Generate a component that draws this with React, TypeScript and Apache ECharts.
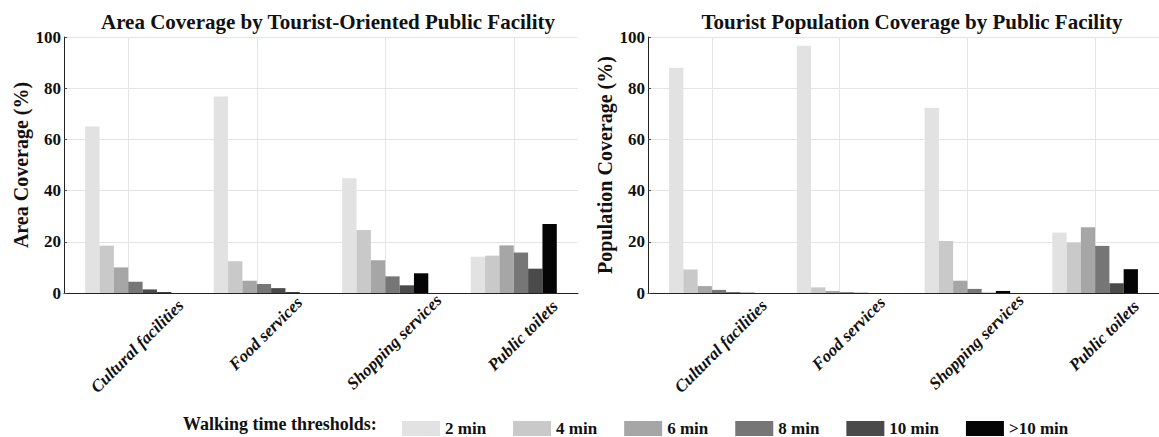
import React, { useEffect, useRef } from "react";
import * as echarts from "echarts";

const categories = ["Cultural facilities", "Food services", "Shopping services", "Public toilets"];
const thresholds = ["2 min", "4 min", "6 min", "8 min", "10 min", ">10 min"];
const colors = ["#e2e2e2", "#c9c9c9", "#a6a6a6", "#767676", "#4a4a4a", "#050505"];

// Area coverage (%) per threshold, for the 4 categories
const area2 = [65.0, 76.8, 44.8, 14.2];
const area4 = [18.5, 12.4, 24.6, 14.6];
const area6 = [10.0, 4.8, 12.8, 18.6];
const area8 = [4.4, 3.5, 6.5, 15.8];
const area10 = [1.4, 1.9, 3.0, 9.5];
const areaOver10 = [0.3, 0.3, 7.7, 27.0];

// Tourist population coverage (%) per threshold
const pop2 = [88.0, 96.6, 72.4, 23.6];
const pop4 = [9.2, 2.2, 20.3, 19.7];
const pop6 = [2.7, 0.8, 4.8, 25.7];
const pop8 = [1.2, 0.3, 1.6, 18.4];
const pop10 = [0.3, 0.1, 0.1, 3.8];
const popOver10 = [0.1, 0.0, 0.8, 9.3];

const yMin = 0;
const yMax = 100;
const yStep = 20;

const leftTitle = "Area Coverage by Tourist-Oriented Public Facility";
const rightTitle = "Tourist Population Coverage by Public Facility";
const leftYName = "Area Coverage (%)";
const rightYName = "Population Coverage (%)";
const legendCaption = "Walking time thresholds:";

const SERIF = "'Liberation Serif', 'Times New Roman', serif";
const LABEL_FONT = 17;
const BASE_MARGIN = 45;

function buildRich() {
  const rich: Record<string, any> = {};
  categories.forEach((c, i) => {
    const w = c.length * 6.0;
    const desired = 7 + (w + LABEL_FONT) * 0.3536;
    const e = desired - BASE_MARGIN;
    const s = 9;
    const du = 1.414 * (s - e);
    const dv = 1.414 * (e + s);
    rich["c" + i] = {
      fontFamily: SERIF,
      fontSize: LABEL_FONT,
      fontWeight: "bold",
      fontStyle: "italic",
      color: "#111",
      padding: [Math.max(0, dv), Math.max(0, -du), Math.max(0, -dv), Math.max(0, du)],
    };
  });
  return rich;
}

export default function App() {
  const ref = useRef<HTMLDivElement>(null);
  useEffect(() => {
    if (!ref.current) return;
    const chart = echarts.init(ref.current, undefined, { renderer: "svg" });
    const rich = buildRich();
    const areaData = [area2, area4, area6, area8, area10, areaOver10];
    const popData = [pop2, pop4, pop6, pop8, pop10, popOver10];

    const xAxisBase = (gridIndex: number) => ({
      type: "category",
      gridIndex,
      data: categories,
      axisLine: { show: true, lineStyle: { color: "#222", width: 1 } },
      axisTick: { show: false },
      splitLine: { show: true, alignWithLabel: true, lineStyle: { color: "#e4e4e4", width: 1 } },
      axisLabel: {
        rotate: 45,
        align: "center",
        verticalAlign: "middle",
        margin: BASE_MARGIN,
        interval: 0,
        formatter: (v: string, idx: number) => `{c${idx}|${v}}`,
        rich,
      },
    });
    const yAxisBase = (gridIndex: number, name: string) => ({
      type: "value",
      gridIndex,
      min: yMin,
      max: yMax,
      interval: yStep,
      name,
      nameLocation: "middle",
      nameGap: 33,
      nameTextStyle: { fontFamily: SERIF, fontSize: 20, fontWeight: "bold", color: "#111" },
      axisLine: { show: true, lineStyle: { color: "#222", width: 1 } },
      axisTick: { show: true, inside: true, length: 3, lineStyle: { color: "#444" } },
      splitLine: { show: true, lineStyle: { color: "#e4e4e4", width: 1 } },
      axisLabel: { fontFamily: SERIF, fontSize: 17, fontWeight: "bold", color: "#111", margin: 3 },
    });

    const mkSeries = (data: number[][], idx: number) =>
      thresholds.map((t, k) => ({
        type: "bar",
        name: t,
        xAxisIndex: idx,
        yAxisIndex: idx,
        data: data[k],
        barGap: "0%",
        barCategoryGap: "33%",
        itemStyle: { color: colors[k] },
        emphasis: { disabled: true },
      }));

    chart.setOption({
      animation: false,
      backgroundColor: "#ffffff",
      color: colors,
      title: [
        {
          text: leftTitle,
          left: 323,
          top: 6,
          textAlign: "center",
          textStyle: { fontFamily: SERIF, fontSize: 21, fontWeight: "bold", color: "#111" },
        },
        {
          text: rightTitle,
          left: 907,
          top: 6,
          textAlign: "center",
          textStyle: { fontFamily: SERIF, fontSize: 21, fontWeight: "bold", color: "#111" },
        },
      ],
      grid: [
        { left: 64, top: 37, width: 514, height: 256, containLabel: false },
        { left: 648, top: 37, width: 513, height: 256, containLabel: false },
      ],
      xAxis: [xAxisBase(0), xAxisBase(1)],
      yAxis: [yAxisBase(0, leftYName), yAxisBase(1, rightYName)],
      legend: {
        data: thresholds,
        left: 397,
        top: 415,
        icon: "rect",
        itemWidth: 38,
        itemHeight: 15,
        itemGap: 27,
        selectedMode: false,
        textStyle: { fontFamily: SERIF, fontSize: 17, fontWeight: "bold", color: "#111" },
      },
      graphic: [
        {
          type: "text",
          x: 183,
          y: 424,
          style: {
            text: legendCaption,
            fontFamily: SERIF,
            fontSize: 18,
            fontWeight: "bold",
            fill: "#111",
            verticalAlign: "middle",
          },
        },
      ],
      series: [...mkSeries(areaData, 0), ...mkSeries(popData, 1)],
    });
    return () => chart.dispose();
  }, []);
  return <div ref={ref} style={{ position: "fixed", left: 0, top: 0, width: 1159, height: 437 }} />;
}
